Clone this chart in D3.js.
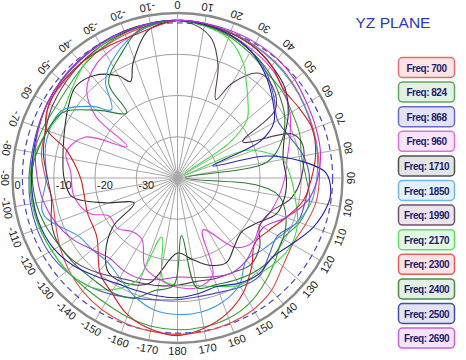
<!DOCTYPE html>
<html>
<head>
<meta charset="utf-8">
<script src="https://cdnjs.cloudflare.com/ajax/libs/d3/7.8.5/d3.min.js"></script>
<style>
  html, body { margin: 0; padding: 0; background: #fff; }
  svg { display: block; }
</style>
</head>
<body>
<svg id="chart" width="466" height="360"></svg>
<script>
// frequencies shown in the legend
var freqs = ["700", "824", "868", "960", "1710", "1850", "1990", "2170", "2300", "2400", "2500", "2690"];

// gain in dB, [angle in degrees clockwise from top, dB]
var s700 = [[0,-1.8],[10,-2.0],[20,-2.4],[30,-2.8],[40,-3.2],[50,-3.8],[60,-4.5],[70,-5.0],[80,-5.4],[90,-5.6],[100,-5.9],[110,-7.0],[120,-7.8],[130,-6.7],[140,-4.5],[150,-3.2],[160,-2.6],[170,-2.2],[180,-2.1],[190,-2.3],[200,-2.6],[210,-3.2],[220,-4.2],[230,-5.5],[240,-7.0],[250,-8.5],[260,-9.2],[270,-8.0],[280,-6.5],[290,-5.9],[300,-4.0],[310,-3.9],[320,-3.7],[330,-3.6],[340,-3.0],[350,-2.3]];
var s824 = [[0,-1.8],[10,-2.4],[20,-3.5],[30,-5.0],[40,-6.5],[50,-7.0],[60,-8.0],[70,-8.5],[80,-9.5],[90,-8.8],[100,-7.5],[110,-8.5],[120,-10.5],[130,-9.0],[140,-7.0],[150,-5.0],[160,-3.8],[170,-3.3],[180,-3.2],[190,-3.5],[200,-4.2],[210,-5.0],[220,-5.2],[230,-5.0],[240,-4.8],[250,-4.4],[260,-4.2],[270,-4.3],[280,-4.6],[290,-5.2],[300,-5.8],[310,-5.5],[320,-4.5],[330,-3.5],[340,-2.6],[350,-2.0]];
var s868 = [[0,-1.8],[10,-2.2],[20,-3.0],[30,-4.4],[40,-6.5],[50,-9.5],[60,-12.0],[70,-11.0],[80,-9.0],[90,-8.0],[100,-8.5],[110,-9.0],[120,-12.0],[130,-11.0],[140,-9.0],[150,-9.5],[160,-10.5],[170,-10.8],[180,-10.5],[190,-10.0],[200,-9.0],[210,-7.5],[220,-6.0],[230,-4.8],[240,-4.0],[250,-3.8],[260,-3.8],[270,-4.0],[280,-4.2],[290,-4.0],[300,-3.6],[310,-3.3],[320,-3.0],[330,-2.6],[340,-2.2],[350,-2.0]];
var s960 = [[0,-1.8],[10,-2.2],[20,-3.0],[30,-4.0],[40,-5.0],[50,-6.5],[60,-8.5],[70,-11.0],[80,-13.0],[90,-14.0],[100,-15.0],[110,-16.0],[120,-17.0],[130,-16.0],[140,-18.0],[154,-26.0],[160,-15.0],[170,-13.0],[180,-13.5],[190,-15.0],[200,-17.0],[210,-22.8],[220,-23.0],[230,-21.0],[241,-21.0],[248,-17.0],[260,-14.5],[273,-14.1],[283,-12.3],[294,-15.6],[302,-25.6],[307,-15.2],[314,-9.4],[325,-6.0],[340,-4.0],[350,-2.5]];
var s1710 = [[0,-1.8],[10,-2.0],[20,-2.5],[30,-3.2],[40,-4.5],[50,-6.0],[60,-9.0],[70,-12.5],[80,-14.0],[90,-13.6],[100,-13.6],[110,-14.5],[120,-18.0],[130,-19.7],[140,-18.5],[150,-16.3],[160,-17.5],[170,-20.0],[180,-21.8],[195,-13.6],[206,-11.6],[216,-11.6],[224,-14.9],[233,-20.4],[240,-27.9],[251,-21.5],[260,-14.0],[270,-12.5],[280,-11.8],[290,-10.7],[302,-8.6],[312,-6.8],[321,-8.0],[330,-11.4],[334,-14.0],[339,-10.0],[349,-3.4]];
var s1850 = [[0,-1.8],[10,-2.0],[20,-2.4],[30,-2.9],[40,-3.4],[50,-4.0],[60,-4.6],[70,-5.2],[80,-5.6],[90,-6.2],[100,-7.0],[110,-9.0],[120,-11.5],[130,-13.0],[140,-14.0],[150,-10.0],[160,-8.0],[170,-7.0],[180,-6.9],[190,-7.5],[200,-9.5],[210,-12.0],[220,-13.5],[230,-13.0],[239,-12.3],[255,-6.3],[270,-8.2],[285,-7.0],[300,-7.5],[310,-13.0],[316,-17.0],[323,-11.0],[328,-8.5],[340,-4.5],[350,-2.5]];
var s1990 = [[0,-1.8],[8,-3.0],[14,-5.4],[20,-11.2],[26,-18.8],[30,-13.4],[38,-7.8],[46,-8.0],[55,-11.0],[61,-21.9],[69,-10.2],[75,-8.6],[90,-10.0],[100,-12.0],[110,-16.0],[120,-17.0],[130,-14.0],[140,-12.5],[150,-13.5],[160,-14.0],[170,-14.5],[180,-14.0],[190,-13.5],[200,-13.0],[210,-12.0],[220,-10.0],[230,-8.0],[240,-7.0],[250,-7.5],[260,-9.0],[270,-8.5],[280,-7.0],[290,-6.0],[300,-5.0],[315,-4.0],[330,-3.0],[345,-2.2]];
var s2170 = [[0,-1.8],[10,-2.6],[20,-4.0],[30,-8.0],[36,-11.6],[42,-14.5],[50,-18.0],[56,-24.9],[62,-38.0],[68,-22.0],[75,-17.0],[80,-14.0],[90,-12.5],[100,-11.0],[110,-9.0],[120,-8.0],[130,-8.5],[140,-9.5],[150,-10.0],[160,-12.0],[170,-13.5],[180,-14.0],[188,-15.0],[195,-25.2],[202,-13.0],[212,-8.0],[220,-6.0],[230,-5.0],[240,-4.8],[250,-4.5],[260,-4.4],[270,-4.5],[280,-5.0],[290,-6.5],[300,-7.8],[310,-6.5],[320,-4.5],[330,-3.0],[340,-2.2],[350,-1.9]];
var s2300 = [[0,-1.8],[10,-2.1],[20,-2.6],[30,-3.2],[40,-4.5],[50,-6.5],[60,-6.0],[70,-5.2],[80,-6.0],[90,-7.5],[100,-9.0],[110,-12.0],[120,-14.5],[130,-15.5],[140,-12.0],[150,-8.0],[160,-5.0],[170,-3.0],[180,-1.8],[192,-3.1],[201,-5.0],[210,-8.0],[219,-10.2],[234,-15.8],[249,-16.6],[260,-17.0],[270,-16.5],[284,-12.3],[291,-5.9],[303,-3.9],[320,-3.6],[332,-3.9],[346,-3.6],[355,-2.4]];
var s2400 = [[0,-1.8],[10,-2.4],[20,-3.2],[30,-4.5],[40,-6.0],[50,-8.0],[60,-10.0],[70,-13.0],[80,-18.0],[88,-38.0],[95,-21.0],[100,-15.0],[110,-12.0],[120,-10.5],[130,-10.0],[140,-10.5],[150,-11.5],[160,-12.5],[170,-13.0],[176,-26.0],[182,-14.0],[192,-12.0],[200,-9.0],[210,-8.0],[220,-8.0],[230,-7.5],[240,-7.0],[250,-6.0],[260,-5.2],[274,-4.8],[286,-6.0],[297,-7.3],[301,-8.5],[311,-15.0],[322,-20.0],[324,-11.6],[336,-6.8],[345,-3.0],[352,-2.2]];
var s2500 = [[0,-1.8],[10,-2.2],[20,-3.0],[30,-4.5],[40,-7.0],[50,-10.0],[60,-13.0],[66,-18.0],[71,-31.0],[76,-18.0],[82,-10.0],[88,-4.0],[95,-2.7],[100,-3.0],[110,-5.0],[120,-8.0],[130,-10.0],[140,-9.5],[150,-10.5],[160,-12.0],[170,-11.5],[180,-11.0],[190,-11.0],[200,-11.0],[210,-10.5],[220,-9.0],[230,-7.0],[240,-5.5],[250,-4.8],[260,-4.6],[270,-4.6],[280,-4.5],[290,-4.2],[300,-3.6],[310,-3.2],[320,-2.8],[330,-2.4],[340,-2.1],[350,-1.9]];
var s2690 = [[0,-1.8],[10,-1.9],[20,-2.0],[30,-2.1],[40,-2.3],[50,-2.9],[60,-3.8],[70,-4.3],[80,-4.8],[90,-6.0],[100,-8.0],[110,-12.0],[120,-16.0],[130,-15.5],[140,-14.0],[150,-13.5],[160,-14.5],[170,-15.5],[180,-16.0],[190,-15.0],[200,-14.0],[210,-14.0],[220,-14.5],[230,-13.0],[240,-10.5],[250,-8.5],[260,-7.0],[270,-6.0],[280,-5.0],[290,-4.2],[300,-3.6],[310,-3.2],[320,-2.8],[330,-2.5],[340,-2.2],[350,-2.0]];

// dashed reference level in dB
var refLevel = -2.4;

// radial tick labels (dB) and angle tick labels
var dbTicks = [0, -10, -20, -30];
var angleTicks = [0,10,20,30,40,50,60,70,80,90,100,110,120,130,140,150,160,170,180,
  -170,-160,-150,-140,-130,-120,-110,-100,-90,-80,-70,-60,-50,-40,-30,-20,-10];

var series = [s700, s824, s868, s960, s1710, s1850, s1990, s2170, s2300, s2400, s2500, s2690];
var lineColors = ["#e54a4a", "#3e9e3e", "#5050d0", "#e040e0", "#303030", "#3a9be0",
                  "#5c3a5e", "#40dc40", "#d42020", "#2b7d34", "#2424a8", "#bb33dd"];
var boxFill = ["#fde3e3", "#e3f1e3", "#e3e3f8", "#fbe3fb", "#e4e4e4", "#e3f1fc",
               "#ede3ed", "#e3fbe3", "#fde3e3", "#e3efe3", "#e3e3f6", "#f8e3fc"];
var boxStroke = ["#e07070", "#60a860", "#6a6ac8", "#e070e0", "#505050", "#70b8e8",
                 "#705070", "#60e060", "#e06060", "#4a8a4a", "#4a4aa8", "#c860e0"];

var svg = d3.select("#chart");
var cx = 177.5, cy = 178, R = 165;

var r = d3.scaleLinear().domain([-40, 0]).range([0, R]);
var rad = function(d) { return d * Math.PI / 180; };

var g = svg.append("g").attr("transform", "translate(" + cx + "," + cy + ")");

// spokes
g.selectAll(".spoke")
  .data(angleTicks)
  .enter().append("line")
  .attr("x1", 0).attr("y1", 0)
  .attr("x2", function(d) { return R * Math.sin(rad(d)); })
  .attr("y2", function(d) { return -R * Math.cos(rad(d)); })
  .attr("stroke", "#a8a8a8")
  .attr("stroke-width", 1);

// rings
g.selectAll(".ring")
  .data(dbTicks.slice(1))
  .enter().append("circle")
  .attr("r", function(d) { return r(d); })
  .attr("fill", "none")
  .attr("stroke", "#a0a0a0")
  .attr("stroke-width", 1);

g.append("circle")
  .attr("r", r(0))
  .attr("fill", "none")
  .attr("stroke", "#8a8a8a")
  .attr("stroke-width", 2.4);

// dashed reference
g.append("circle")
  .attr("r", r(refLevel))
  .attr("fill", "none")
  .attr("stroke", "#4848b8")
  .attr("stroke-width", 1.2)
  .attr("stroke-dasharray", "6,4");

// patterns
var line = d3.lineRadial()
  .angle(function(d) { return rad(d[0]); })
  .radius(function(d) { return r(d[1]); })
  .curve(d3.curveCatmullRomClosed.alpha(0.5));

g.selectAll(".pattern")
  .data(series)
  .enter().append("path")
  .attr("d", line)
  .attr("fill", "none")
  .attr("stroke", function(d, i) { return lineColors[i]; })
  .attr("stroke-width", 1.1);

// dB labels
g.selectAll(".dblabel")
  .data(dbTicks)
  .enter().append("text")
  .attr("x", function(d) { return -r(d) + 2; })
  .attr("y", 11)
  .attr("font-family", "Liberation Sans, Arial, sans-serif")
  .attr("font-size", 11)
  .attr("fill", "#222")
  .text(function(d) { return d; });

// angle labels, top of text toward the centre
g.selectAll(".alabel")
  .data(angleTicks)
  .enter().append("text")
  .attr("transform", function(d) {
    var lr = R + 8;
    return "translate(" + (lr * Math.sin(rad(d))) + "," + (-lr * Math.cos(rad(d))) + ") rotate(" + (d + 180) + ")";
  })
  .attr("text-anchor", "middle")
  .attr("dominant-baseline", "central")
  .attr("font-family", "Liberation Sans, Arial, sans-serif")
  .attr("font-size", 11)
  .attr("fill", "#222")
  .text(function(d) { return d; });

// title
svg.append("text")
  .attr("x", 393).attr("y", 28)
  .attr("text-anchor", "middle")
  .attr("font-family", "Liberation Sans, Arial, sans-serif")
  .attr("font-size", 15.5)
  .attr("fill", "#2b36c4")
  .text("YZ PLANE");

// legend
var lg = svg.selectAll(".leg")
  .data(freqs)
  .enter().append("g")
  .attr("transform", function(d, i) { return "translate(398.5," + (57.5 + i * 24.6) + ")"; });

lg.append("rect")
  .attr("width", 56).attr("height", 20)
  .attr("rx", 4).attr("ry", 4)
  .attr("fill", function(d, i) { return boxFill[i]; })
  .attr("stroke", function(d, i) { return boxStroke[i]; })
  .attr("stroke-width", 1.5);

lg.append("text")
  .attr("x", 28).attr("y", 14)
  .attr("text-anchor", "middle")
  .attr("font-family", "Liberation Sans, Arial, sans-serif")
  .attr("font-size", 10)
  .attr("font-weight", "bold")
  .attr("letter-spacing", -0.5)
  .attr("fill", "#1c1c6e")
  .text(function(d) { return "Freq: " + d; });
</script>
</body>
</html>
